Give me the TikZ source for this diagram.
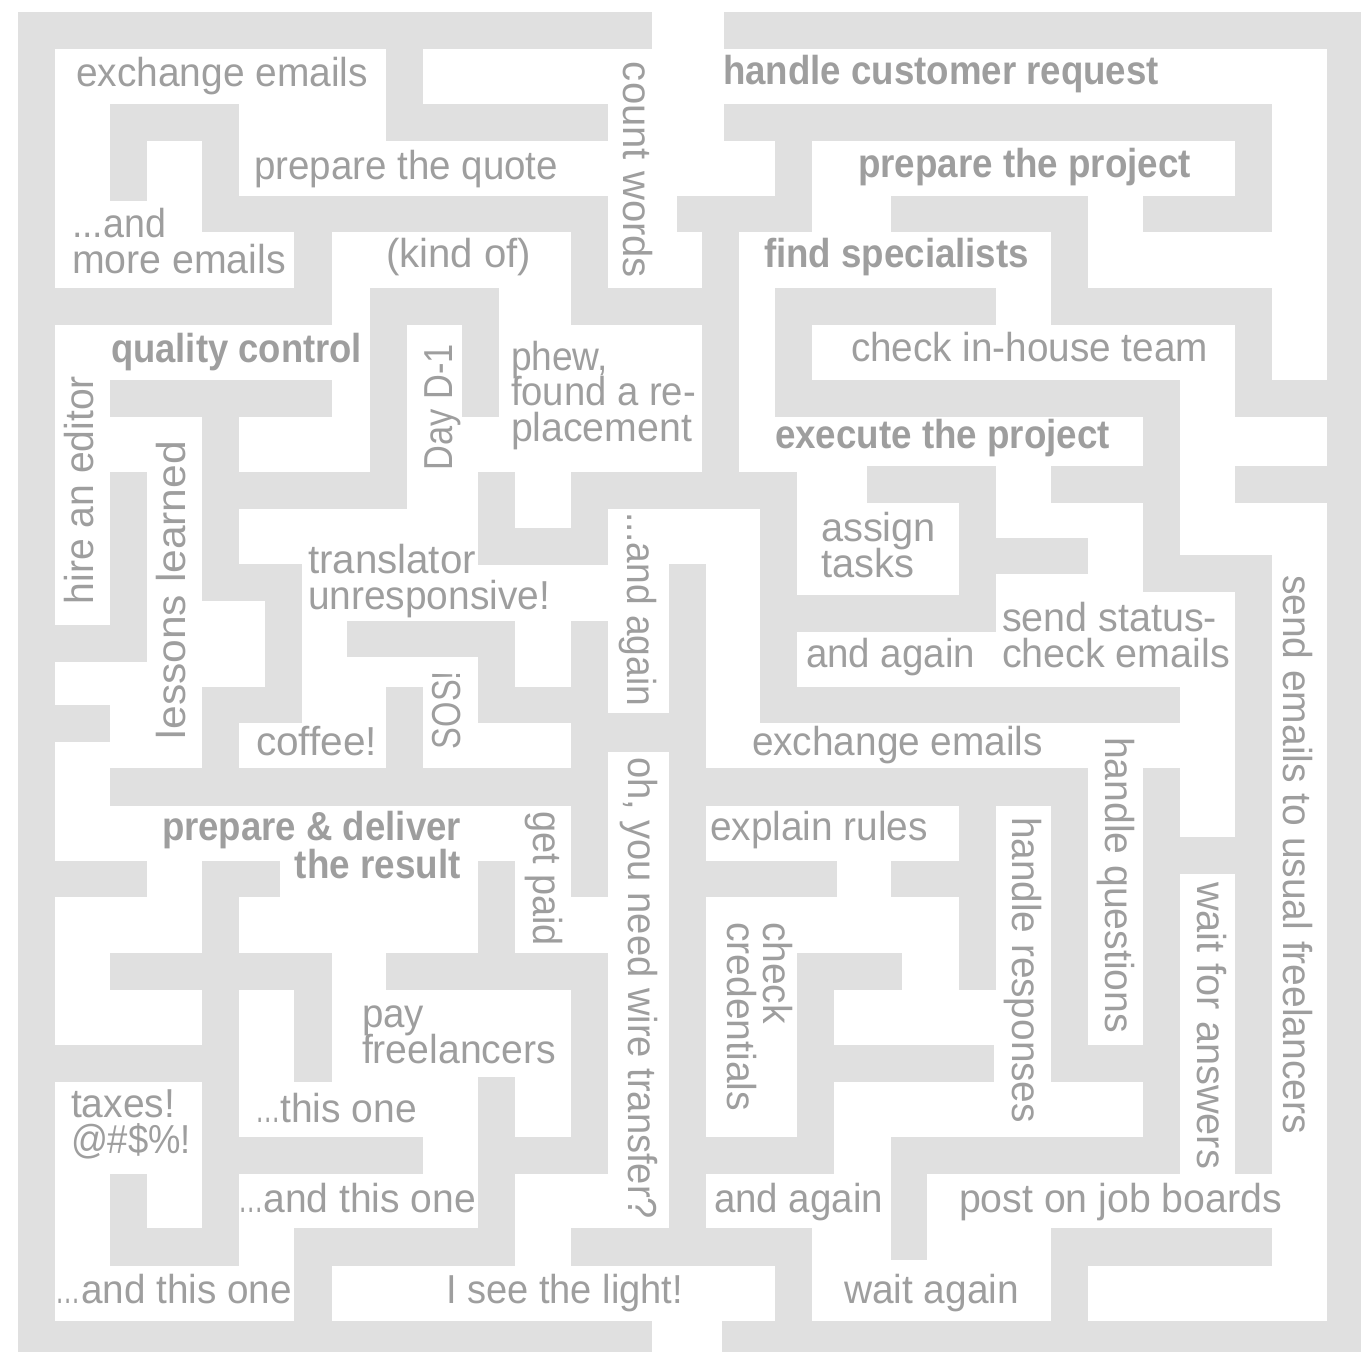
\documentclass[tikz,border=0pt]{standalone}
\usepackage{fontspec}
\setmainfont{Liberation Sans}
\definecolor{wall}{HTML}{E0E0E0}
\definecolor{ink}{HTML}{9E9E9E}
\newlength\pxu
\setlength\pxu{0.01cm}
\newcommand\lblfont{\fontsize{11.5}{11.5}\selectfont}
\newcommand\fitw[2]{\resizebox{#1\pxu}{\height}{#2}}
\newcommand\tightdots{\scalebox{0.65}[1]{…}}
% stacked lines: first argument is the baseline distance in pixels
\newcommand\lines[2]{\vtop{\baselineskip=#1\pxu\lineskiplimit=-\maxdimen\lineskip=0pt #2}}
\tikzset{
  mazewall/.style={fill=wall, draw=none},
  lbl/.style={inner sep=0pt, outer sep=0pt, text=ink, font=\lblfont, anchor=base west},
  lblr/.style={lbl, anchor=base east},
  lbldown/.style={lbl, rotate=-90},
  lblup/.style={lbl, rotate=90},
}
\begin{document}
\begin{tikzpicture}[x=0.01cm, y=-0.01cm]
\useasboundingbox (0,0) rectangle (1361,1352);
% walls
\foreach \a/\b/\c/\d in {
  18/12/652/49, 724/12/1361/49, 18/12/55/1352, 1327/12/1361/1352,
  18/1321/652/1352, 722/1321/1361/1352,
  % top-left quadrant
  386/49/423/141, 386/104/608/141, 110/104/239/141, 110/104/147/201,
  202/104/239/232, 202/196/608/232, 571/196/608/325, 571/288/739/325,
  294/196/332/325, 18/288/332/325, 370/288/499/325, 462/288/499/417,
  370/288/407/509, 110/380/332/417, 202/380/239/601, 239/472/407/509,
  202/564/302/601, 265/564/302/723, 202/687/302/723, 202/687/239/768,
  110/472/147/662, 18/625/147/662, 18/705/110/742, 110/768/571/806,
  386/687/423/768, 347/621/515/657, 478/621/515/723, 478/687/608/723,
  571/621/608/897, 608/713/669/752, 478/472/515/565, 478/528/608/565,
  571/472/608/565, 571/472/797/509, 702/232/739/472, 669/564/706/1228,
  % top-right quadrant
  677/196/812/232, 775/104/812/232, 724/104/1272/141, 1235/104/1272/232,
  1143/196/1272/232, 891/196/1088/232, 1051/196/1088/325, 1051/288/1272/325,
  1235/288/1272/417, 1235/380/1327/417, 775/288/996/325, 775/288/812/417,
  775/380/1180/417, 1143/380/1180/592, 1180/555/1272/592, 1235/466/1327/503,
  1051/466/1180/503, 867/466/996/503, 959/466/996/632, 996/538/1088/574,
  797/595/996/632, 760/472/797/723, 760/687/1180/723, 1235/555/1272/1174,
  % bottom-right quadrant
  706/768/1088/806, 1051/768/1088/1082, 1051/1045/1180/1082, 1143/768/1180/1174,
  1180/837/1235/874, 706/861/837/897, 891/861/996/897, 959/768/996/990,
  797/953/902/990, 797/953/834/1174, 706/1137/834/1174, 834/1045/994/1082,
  891/1137/1180/1174, 891/1137/927/1260, 1051/1228/1272/1266, 1051/1228/1088/1321,
  571/1228/812/1266, 775/1228/812/1321,
  % bottom-left quadrant
  18/861/147/897, 202/861/280/897, 202/861/239/1266, 110/953/332/990,
  294/953/332/1082, 18/1045/239/1082, 239/1137/423/1174, 110/1174/147/1266,
  110/1228/239/1266, 294/1228/515/1266, 294/1228/332/1321, 386/953/608/990,
  478/861/515/953, 571/953/608/1174, 515/1137/608/1174, 478/1077/515/1266}
  \fill[mazewall] (\a,\b) rectangle (\c,\d);
% horizontal labels
\node[lbl] (t1) at (76,87) {\fitw{292}{exchange emails}};
\node[lbl] (t2) at (254,180) {\fitw{304}{prepare the quote}};
\node[lbl] (t3) at (72,238) {\lines{36}{\hbox{\fitw{94}{...and}}\hbox{\fitw{214}{more emails}}}};
\node[lbl] (t4) at (386,268) {\fitw{145}{(kind of)}};
\node[lbl] (t5) at (308,573) {\lines{36}{\hbox{\fitw{168}{translator}}\hbox{\fitw{242}{unresponsive!}}}};
\node[lbl] (t6) at (511,370) {\lines{35.5}{\hbox{\fitw{97}{phew,}}\hbox{\fitw{185}{found a re-}}\hbox{\fitw{181}{placement}}}};
\node[lbl] (t7) at (851,362) {\fitw{357}{check in-house team}};
\node[lbl] (t8) at (821,541) {\lines{36}{\hbox{\fitw{115}{assign}}\hbox{\fitw{93}{tasks}}}};
\node[lbl] (t9) at (1002,631) {\lines{36}{\hbox{\fitw{215}{send status-}}\hbox{\fitw{228}{check emails}}}};
\node[lbl] (t10) at (806,667) {\fitw{169}{and again}};
\node[lbl] (t11) at (256,755) {\fitw{121}{coffee!}};
\node[lbl] (t12) at (752,755) {\fitw{291}{exchange emails}};
\node[lbl] (t13) at (710,840) {\fitw{218}{explain rules}};
\node[lbl] (t14) at (362,1027) {\lines{36}{\hbox{\fitw{62}{pay}}\hbox{\fitw{194}{freelancers}}}};
\node[lbl] (t15) at (71,1117) {\lines{36}{\hbox{\fitw{104}{taxes!}}\hbox{\fitw{120}{@\#\$\%!}}}};
\node[lbl] (t16) at (255,1122) {\fitw{162}{\tightdots this one}};
\node[lbl] (t17) at (238,1212) {\fitw{238}{\tightdots and this one}};
\node[lbl] (t18) at (714,1212) {\fitw{169}{and again}};
\node[lbl] (t19) at (959,1212) {\fitw{323}{post on job boards}};
\node[lbl] (t20) at (56,1303) {\fitw{236}{\tightdots and this one}};
\node[lbl] (t21) at (446,1303) {\fitw{237}{I see the light!}};
\node[lbl] (t22) at (844,1303) {\fitw{175}{wait again}};
% bold labels
\node[lbl] (b1) at (723,85) {\fitw{436}{\bfseries handle customer request}};
\node[lbl] (b2) at (858,178) {\fitw{333}{\bfseries prepare the project}};
\node[lbl] (b3) at (764,268) {\fitw{265}{\bfseries find specialists}};
\node[lbl] (b4) at (111,363) {\fitw{251}{\bfseries quality control}};
\node[lbl] (b5) at (775,448) {\fitw{335}{\bfseries execute the project}};
\node[lbl] (b6) at (162,840) {\lines{38}{\hbox to 299\pxu{\hfil\fitw{299}{\bfseries prepare \& deliver}}\hbox to 299\pxu{\hfil\fitw{166}{\bfseries the result}}}};
% vertical labels, reading downwards
\node[lbldown] (v1) at (623,62) {\fitw{216}{count words}};
\node[lbldown] (v2) at (627,512) {\fitw{194}{...and again}};
\node[lbldown] (v3) at (533,811) {\fitw{135}{get paid}};
\node[lbldown] (v4) at (628,757) {\fitw{462}{oh, you need wire transfer?}};
\node[lbldown] (v5) at (1283,575) {\fitw{559}{send emails to usual freelancers}};
\node[lbldown] (v6) at (1105,737) {\fitw{296}{handle questions}};
\node[lbldown] (v7) at (1012,817) {\fitw{306}{handle responses}};
\node[lbldown] (v8) at (1197,882) {\fitw{287}{wait for answers}};
\node[lbldown] (v9) at (763,922) {\lines{36}{\hbox{\fitw{102}{check}}\hbox{\fitw{189}{credentials}}}};
% vertical labels, reading upwards
\node[lblup] (u1) at (452,470) {\fitw{126}{Day D-1}};
\node[lblup] (u2) at (93,604) {\fitw{228}{hire an editor}};
\node[lblup] (u3) at (185,739) {\fitw{298}{lessons learned}};
\node[lblup] (u4) at (460,749) {\fitw{78}{SOS!}};
\end{tikzpicture}
\end{document}
